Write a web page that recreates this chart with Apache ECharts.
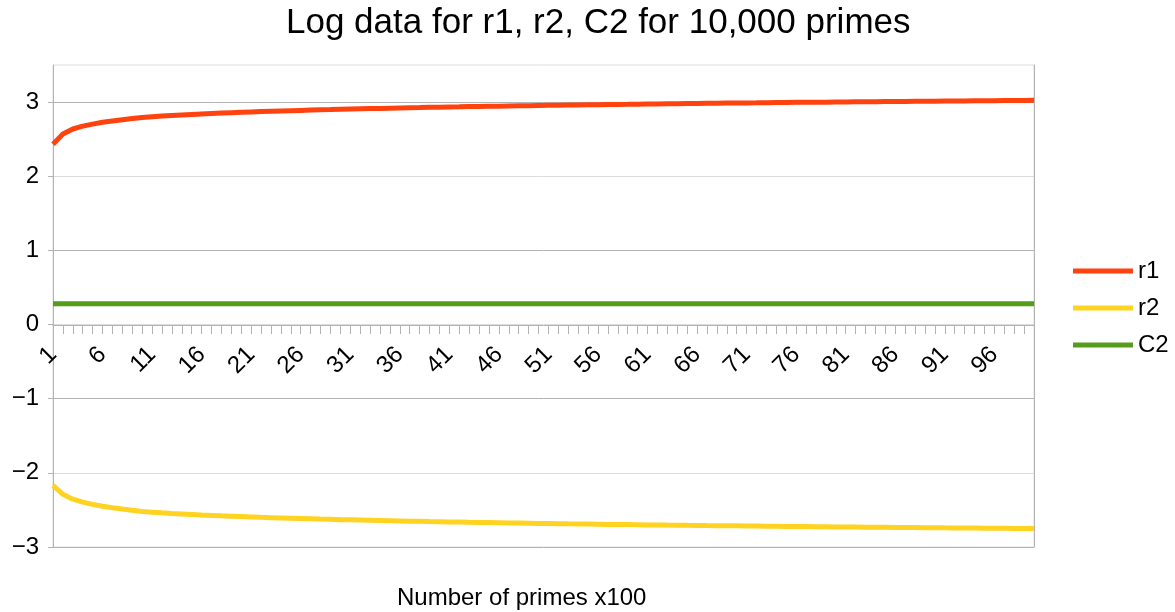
<!DOCTYPE html>
<html>
<head>
<meta charset="utf-8">
<title>Log data for r1, r2, C2</title>
<script src="https://cdn.jsdelivr.net/npm/echarts@6/dist/echarts.min.js"></script>
<style>
  html, body { margin: 0; padding: 0; background: #fff; }
  #chart { width: 1175px; height: 612px; }
</style>
</head>
<body>
<div id="chart"></div>
<script>
// number of primes, in hundreds
var categories = [
    '1','2','3','4','5','6','7','8','9','10',
    '11','12','13','14','15','16','17','18','19','20',
    '21','22','23','24','25','26','27','28','29','30',
    '31','32','33','34','35','36','37','38','39','40',
    '41','42','43','44','45','46','47','48','49','50',
    '51','52','53','54','55','56','57','58','59','60',
    '61','62','63','64','65','66','67','68','69','70',
    '71','72','73','74','75','76','77','78','79','80',
    '81','82','83','84','85','86','87','88','89','90',
    '91','92','93','94','95','96','97','98','99','100'
]
var r1 = [
    2.432,2.569,2.637,2.675,2.703,2.727,2.746,2.763,2.779,2.793,
    2.802,2.811,2.819,2.826,2.833,2.840,2.846,2.852,2.857,2.862,
    2.867,2.872,2.876,2.880,2.884,2.888,2.892,2.896,2.899,2.903,
    2.906,2.909,2.912,2.915,2.918,2.921,2.924,2.926,2.929,2.931,
    2.934,2.936,2.939,2.941,2.943,2.945,2.948,2.950,2.952,2.954,
    2.956,2.958,2.960,2.961,2.963,2.965,2.967,2.969,2.970,2.972,
    2.974,2.975,2.977,2.978,2.980,2.981,2.983,2.984,2.986,2.987,
    2.989,2.990,2.992,2.993,2.994,2.996,2.997,2.998,2.999,3.001,
    3.002,3.003,3.004,3.006,3.007,3.008,3.009,3.010,3.011,3.012,
    3.014,3.015,3.016,3.017,3.018,3.019,3.020,3.021,3.022,3.023
]
var r2 = [
    -2.170,-2.290,-2.355,-2.395,-2.425,-2.450,-2.470,-2.488,-2.505,-2.521,
    -2.530,-2.539,-2.547,-2.554,-2.561,-2.568,-2.574,-2.580,-2.585,-2.590,
    -2.595,-2.600,-2.604,-2.608,-2.612,-2.616,-2.620,-2.624,-2.627,-2.631,
    -2.634,-2.637,-2.640,-2.643,-2.646,-2.649,-2.652,-2.654,-2.657,-2.659,
    -2.662,-2.664,-2.667,-2.669,-2.671,-2.673,-2.676,-2.678,-2.680,-2.682,
    -2.684,-2.686,-2.688,-2.689,-2.691,-2.693,-2.695,-2.697,-2.698,-2.700,
    -2.702,-2.703,-2.705,-2.706,-2.708,-2.709,-2.711,-2.712,-2.714,-2.715,
    -2.717,-2.718,-2.720,-2.721,-2.722,-2.724,-2.725,-2.726,-2.727,-2.729,
    -2.730,-2.731,-2.732,-2.734,-2.735,-2.736,-2.737,-2.738,-2.739,-2.740,
    -2.742,-2.743,-2.744,-2.745,-2.746,-2.747,-2.748,-2.749,-2.750,-2.751
]
var c2 = [
    0.28,0.28,0.28,0.28,0.28,0.28,0.28,0.28,0.28,0.28,
    0.28,0.28,0.28,0.28,0.28,0.28,0.28,0.28,0.28,0.28,
    0.28,0.28,0.28,0.28,0.28,0.28,0.28,0.28,0.28,0.28,
    0.28,0.28,0.28,0.28,0.28,0.28,0.28,0.28,0.28,0.28,
    0.28,0.28,0.28,0.28,0.28,0.28,0.28,0.28,0.28,0.28,
    0.28,0.28,0.28,0.28,0.28,0.28,0.28,0.28,0.28,0.28,
    0.28,0.28,0.28,0.28,0.28,0.28,0.28,0.28,0.28,0.28,
    0.28,0.28,0.28,0.28,0.28,0.28,0.28,0.28,0.28,0.28,
    0.28,0.28,0.28,0.28,0.28,0.28,0.28,0.28,0.28,0.28,
    0.28,0.28,0.28,0.28,0.28,0.28,0.28,0.28,0.28,0.28
]
var yTicks = [-3, -2, -1, 0, 1, 2, 3]

var font = 'Liberation Sans, Arial, sans-serif'
var option = {
    backgroundColor: '#fff',
    animation: false,
    textStyle: { fontFamily: font },
    title: [{
        text: 'Log data for r1, r2, C2 for 10,000 primes',
        left: 281,
        top: 1,
        textStyle: { color: '#000', fontSize: 35, fontWeight: 'normal', fontFamily: font }
    }, {
        text: 'Number of primes x100',
        left: 392,
        top: 581,
        textStyle: { color: '#000', fontSize: 24, fontWeight: 'normal', fontFamily: font }
    }],
    legend: {
        orient: 'vertical',
        left: 1068,
        top: 254,
        icon: 'rect',
        itemWidth: 60,
        itemHeight: 5,
        itemGap: 13,
        textStyle: { color: '#000', fontSize: 24, lineHeight: 24, fontFamily: font },
        data: ['r1', 'r2', 'C2']
    },
    grid: {
        left: 53,
        right: 141,
        top: 65,
        bottom: 65,
        show: true,
        borderColor: '#dddddd',
        borderWidth: 1
    },
    xAxis: {
        type: 'category',
        data: categories,
        boundaryGap: false,
        position: 'bottom',
        // axis sits on the zero line, labels hang below it
        offset: -222,
        axisLine: { onZero: false, lineStyle: { color: '#b3b3b3', width: 1 } },
        axisTick: { interval: 0, length: 9, lineStyle: { color: '#b3b3b3' } },
        axisLabel: {
            interval: 4,
            rotate: 45,
            margin: 26,
            color: '#000',
            fontSize: 24,
            fontFamily: font
        },
        splitLine: { show: false }
    },
    yAxis: [{
        type: 'value',
        min: -3,
        max: 3.5,
        interval: 0.5,
        axisLine: { show: true, onZero: false, lineStyle: { color: '#b3b3b3' } },
        axisTick: { show: true, length: 5, customValues: yTicks, lineStyle: { color: '#b3b3b3' } },
        axisLabel: {
            customValues: yTicks,
            margin: 14,
            color: '#000',
            fontSize: 24,
            fontFamily: font,
            formatter: function (v) { return v < 0 ? '\u2212' + (-v) : String(v) }
        },
        splitLine: { show: true, lineStyle: { color: ['#b3b3b3', '#dddddd'], width: 1 } }
    }, {
        type: 'value',
        position: 'right',
        min: -3,
        max: 3.5,
        interval: 0.5,
        axisLine: { show: true, onZero: false, lineStyle: { color: '#b3b3b3' } },
        axisTick: { show: false },
        axisLabel: { show: false },
        splitLine: { show: false }
    }],
    series: [{
        name: 'r1',
        type: 'line',
        data: r1,
        showSymbol: false,
        color: '#ff420e',
        lineStyle: { width: 5 }
    }, {
        name: 'r2',
        type: 'line',
        data: r2,
        showSymbol: false,
        color: '#ffd320',
        lineStyle: { width: 5 }
    }, {
        name: 'C2',
        type: 'line',
        data: c2,
        showSymbol: false,
        color: '#579d1c',
        lineStyle: { width: 5 }
    }]
}

var myChart = echarts.init(document.getElementById('chart'))
myChart.setOption(option)
</script>
</body>
</html>
